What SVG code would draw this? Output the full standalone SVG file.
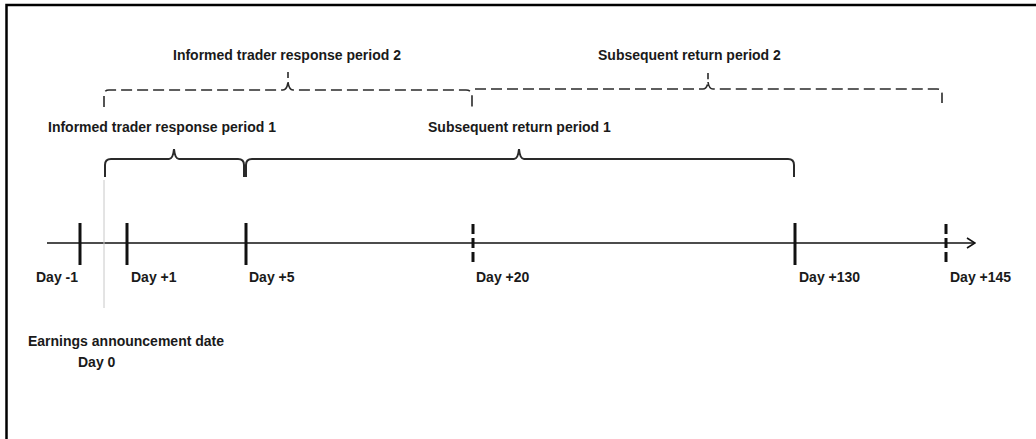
<svg xmlns="http://www.w3.org/2000/svg" width="1036" height="439" viewBox="0 0 1036 439">
  <style>
    .t { font-family: "Liberation Sans", Arial, sans-serif; font-weight: bold; font-size: 14px; fill: #1a1a1a; }
    .brace { fill: none; stroke: #2a2a2a; stroke-width: 2; }
    .dbrace { fill: none; stroke: #2a2a2a; stroke-width: 1.6; stroke-dasharray: 11 5; }
    .tick { stroke: #111; stroke-width: 3; }
    .dtick { stroke: #111; stroke-width: 3; stroke-dasharray: 10 4; }
    .axis { stroke: #111; stroke-width: 1.6; fill: none; }
  </style>
  <defs>
    <marker id="arrow" viewBox="0 0 10 12" refX="9" refY="6" markerWidth="10" markerHeight="12" markerUnits="userSpaceOnUse" orient="auto">
      <path d="M1,1 L9,6 L1,11" fill="none" stroke="#111" stroke-width="1.6"/>
    </marker>
  </defs>
  <rect x="0" y="0" width="1036" height="439" fill="#fff"/>
  <!-- frame (only top and left visible) -->
  <path d="M6.5,445 L6.5,5 L1040,5" fill="none" stroke="#000" stroke-width="2.5"/>

  <g id="connectors">
    <!-- timeline axis -->
    <line class="axis" x1="47" y1="243" x2="975" y2="243" marker-end="url(#arrow)"/>
    <!-- announcement gray line -->
    <line x1="104" y1="180" x2="104" y2="308" stroke="#c8c8c8" stroke-width="1"/>
  </g>

  <g id="ticks">
    <line class="tick" x1="80" y1="223" x2="80" y2="265"/>
    <line class="tick" x1="127" y1="223" x2="127" y2="265"/>
    <line class="tick" x1="246" y1="223" x2="246" y2="265"/>
    <line class="dtick" x1="473" y1="224" x2="473" y2="264"/>
    <line class="tick" x1="795" y1="223" x2="795" y2="265"/>
    <line class="dtick" x1="946" y1="224" x2="946" y2="264"/>
  </g>

  <g id="brace-itr1">
    <path class="brace" d="M105,177 L105,165 Q105,159 111,159 L169,159 Q173,159 174,149 Q175,159 179,159 L238,159 Q244,159 244,165 L244,177"/>
    <text class="t" x="48" y="132">Informed trader response period 1</text>
  </g>
  <g id="brace-srp1">
    <path class="brace" d="M246,177 L246,165 Q246,159 252,159 L514,159 Q518,159 519,149 Q520,159 524,159 L788,159 Q794,159 794,165 L794,177"/>
    <text class="t" x="428" y="132">Subsequent return period 1</text>
  </g>
  <g id="brace-itr2">
    <path class="dbrace" d="M104,107 L104,95 Q104,90 109,90 L283,90 Q287,90 288,82 L288,72 M288,82 Q289,90 293,90 L466,90 Q472,90 472,96 L472,107"/>
    <text class="t" x="173" y="60">Informed trader response period 2</text>
  </g>
  <g id="brace-srp2">
    <path class="dbrace" d="M475,89 L703,89 Q707,89 708,82 L708,73 M708,82 Q709,89 713,89 L937,89 Q942,89 942,94 L942,103"/>
    <text class="t" x="598" y="60">Subsequent return period 2</text>
  </g>

  <g id="labels">
    <text class="t" x="36" y="282">Day -1</text>
    <text class="t" x="131" y="282">Day +1</text>
    <text class="t" x="249" y="282">Day +5</text>
    <text class="t" x="476" y="282">Day +20</text>
    <text class="t" x="799" y="282">Day +130</text>
    <text class="t" x="950" y="282">Day +145</text>
  </g>
  <g id="announcement">
    <text class="t" x="28" y="346">Earnings announcement date</text>
    <text class="t" x="78" y="367">Day 0</text>
  </g>
</svg>
